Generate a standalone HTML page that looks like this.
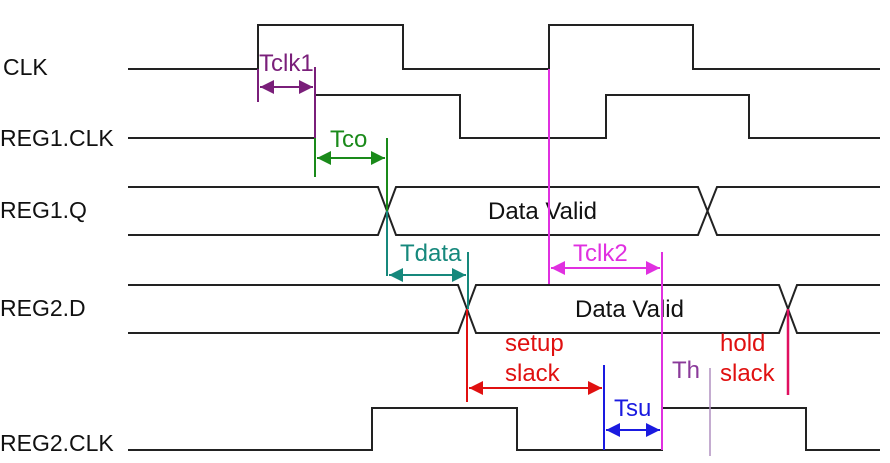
<!DOCTYPE html>
<html><head><meta charset="utf-8"><style>
html,body{margin:0;padding:0;background:#fff;}
svg{display:block;}
text{font-family:"Liberation Sans",Arial,sans-serif;}
</style></head><body>
<svg width="890" height="463" viewBox="0 0 890 463" xmlns="http://www.w3.org/2000/svg">
<defs>
<marker id="aP" viewBox="0 0 10 10" refX="10" refY="5" markerWidth="7" markerHeight="7" orient="auto-start-reverse"><path d="M0,0 L10,5 L0,10 z" fill="#7a1f7a"/></marker>
<marker id="aG" viewBox="0 0 10 10" refX="10" refY="5" markerWidth="7" markerHeight="7" orient="auto-start-reverse"><path d="M0,0 L10,5 L0,10 z" fill="#1a8a1a"/></marker>
<marker id="aT" viewBox="0 0 10 10" refX="10" refY="5" markerWidth="7" markerHeight="7" orient="auto-start-reverse"><path d="M0,0 L10,5 L0,10 z" fill="#16887c"/></marker>
<marker id="aM" viewBox="0 0 10 10" refX="10" refY="5" markerWidth="7" markerHeight="7" orient="auto-start-reverse"><path d="M0,0 L10,5 L0,10 z" fill="#e030e0"/></marker>
<marker id="aR" viewBox="0 0 10 10" refX="10" refY="5" markerWidth="7" markerHeight="7" orient="auto-start-reverse"><path d="M0,0 L10,5 L0,10 z" fill="#e01010"/></marker>
<marker id="aB" viewBox="0 0 10 10" refX="10" refY="5" markerWidth="7" markerHeight="7" orient="auto-start-reverse"><path d="M0,0 L10,5 L0,10 z" fill="#1a1ae0"/></marker>
</defs>
<g fill="none" stroke="#222" stroke-width="2">
<polyline points="128,69 258,69 258,25 403,25 403,69 549,69 549,25 693,25 693,69 880,69"/>
<polyline points="128,138 315,138 315,95 460,95 460,138 606,138 606,95 749,95 749,138 880,138"/>
<polyline points="128,187 378,187 396,235 698,235 717,187 880,187"/>
<polyline points="128,235 378,235 396,187 698,187 717,235 880,235"/>
<polyline points="128,285 458,285 476,333 779,333 797,285 880,285"/>
<polyline points="128,333 458,333 476,285 779,285 797,333 880,333"/>
<polyline points="128,450 372,450 372,408 517,408 517,450 662,450 662,408 806,408 806,450 880,450"/>
</g>
<g font-size="23" fill="#111">
<text x="3" y="75">CLK</text>
<text x="0" y="146">REG1.CLK</text>
<text x="0" y="218">REG1.Q</text>
<text x="0" y="316">REG2.D</text>
<text x="0" y="451">REG2.CLK</text>
</g>
<g font-size="24" fill="#111">
<text x="488" y="219">Data Valid</text>
<text x="575" y="317">Data Valid</text>
</g>
<g stroke="#7a1f7a" stroke-width="2"><line x1="258" y1="69" x2="258" y2="102"/><line x1="315" y1="67" x2="315" y2="138"/><line x1="260" y1="87" x2="313" y2="87" marker-start="url(#aP)" marker-end="url(#aP)"/></g>
<text x="259" y="71" font-size="24" fill="#7a1f7a">Tclk1</text>
<g stroke="#1a8a1a" stroke-width="2"><line x1="315" y1="138" x2="315" y2="177"/><line x1="387" y1="138" x2="387" y2="211"/><line x1="317" y1="158" x2="385" y2="158" marker-start="url(#aG)" marker-end="url(#aG)"/></g>
<text x="330" y="147" font-size="24" fill="#1a8a1a">Tco</text>
<g stroke="#16887c" stroke-width="2"><line x1="387" y1="211" x2="387" y2="276"/><line x1="468" y1="252" x2="468" y2="309"/><line x1="389" y1="275" x2="466" y2="275" marker-start="url(#aT)" marker-end="url(#aT)"/></g>
<text x="400" y="261" font-size="24" fill="#16887c">Tdata</text>
<g stroke="#e030e0" stroke-width="2"><line x1="549" y1="69" x2="549" y2="284"/><line x1="662" y1="252" x2="662" y2="450"/><line x1="551" y1="268" x2="660" y2="268" marker-start="url(#aM)" marker-end="url(#aM)"/></g>
<text x="573" y="261" font-size="24" fill="#e030e0">Tclk2</text>
<g stroke="#e01010" stroke-width="2"><line x1="467" y1="309" x2="467" y2="402"/><line x1="469" y1="388" x2="602" y2="388" marker-start="url(#aR)" marker-end="url(#aR)"/></g>
<text x="505" y="351" font-size="24" fill="#e01010">setup</text>
<text x="505" y="381" font-size="24" fill="#e01010">slack</text>
<g stroke="#1a1ae0" stroke-width="2"><line x1="604" y1="365" x2="604" y2="450"/><line x1="606" y1="430" x2="660" y2="430" marker-start="url(#aB)" marker-end="url(#aB)"/></g>
<text x="614" y="416" font-size="24" fill="#1a1ae0">Tsu</text>
<text x="672" y="378" font-size="24" fill="#8a3a9a">Th</text>
<line x1="710" y1="368" x2="710" y2="456" stroke="#b090c0" stroke-width="1.5"/>
<text x="720" y="351" font-size="24" fill="#e01010">hold</text>
<text x="720" y="381" font-size="24" fill="#e01010">slack</text>
<line x1="788" y1="309" x2="788" y2="395" stroke="#e01060" stroke-width="2.5"/>
</svg>
</body></html>
